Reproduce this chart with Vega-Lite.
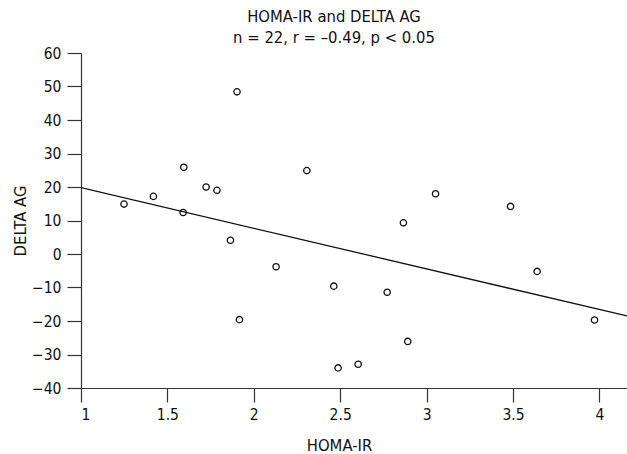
{
  "$schema": "https://vega.github.io/schema/vega-lite/v6.json",
  "width": 546,
  "height": 335,
  "autosize": {"type": "none"},
  "padding": {"left": 81, "top": 53, "right": 0, "bottom": 66},
  "background": "white",
  "title": {
    "text": ["HOMA-IR and DELTA AG", "n = 22, r = –0.49, p < 0.05"],
    "font": "DejaVu Sans Condensed, sans-serif",
    "fontSize": 16.5,
    "fontWeight": "normal",
    "color": "#111",
    "lineHeight": 21,
    "anchor": "middle",
    "frame": "group",
    "dx": -20,
    "offset": 0
  },
  "config": {
    "view": {"stroke": null},
    "axis": {
      "labelFont": "DejaVu Sans Condensed, sans-serif",
      "titleFont": "DejaVu Sans Condensed, sans-serif",
      "labelFontSize": 15.5,
      "titleFontSize": 16.5,
      "titleFontWeight": "normal",
      "labelColor": "#111",
      "titleColor": "#111",
      "domainColor": "#333",
      "tickColor": "#333",
      "domainWidth": 1.2,
      "tickWidth": 1.2,
      "tickSize": 14,
      "grid": false,
      "labelOverlap": false
    }
  },
  "encoding": {
    "x": {
      "field": "homa", "type": "quantitative",
      "scale": {"domain": [1, 4.16], "nice": false, "zero": false},
      "axis": {"title": "HOMA-IR", "values": [1, 1.5, 2, 2.5, 3, 3.5, 4], "format": "~g", "labelPadding": 5, "titlePadding": 15, "titleX": 258, "labelOverlap": false}
    },
    "y": {
      "field": "delta", "type": "quantitative",
      "scale": {"domain": [-40, 60], "nice": false, "zero": false},
      "axis": {"title": "DELTA AG", "values": [-40, -30, -20, -10, 0, 10, 20, 30, 40, 50, 60], "format": "d", "labelPadding": 6, "titlePadding": 3, "labelOverlap": false}
    }
  },
  "layer": [
    {
      "data": {
        "values": [
          {"homa": 1.903, "delta": 48.4},
          {"homa": 1.595, "delta": 25.9},
          {"homa": 1.724, "delta": 20.0},
          {"homa": 1.787, "delta": 19.0},
          {"homa": 1.419, "delta": 17.2},
          {"homa": 1.249, "delta": 14.9},
          {"homa": 1.591, "delta": 12.4},
          {"homa": 2.307, "delta": 24.9},
          {"homa": 3.052, "delta": 18.0},
          {"homa": 3.486, "delta": 14.2},
          {"homa": 2.866, "delta": 9.3},
          {"homa": 1.865, "delta": 4.1},
          {"homa": 2.129, "delta": -3.8},
          {"homa": 1.917, "delta": -19.6},
          {"homa": 3.640, "delta": -5.2},
          {"homa": 2.463, "delta": -9.6},
          {"homa": 2.772, "delta": -11.4},
          {"homa": 3.972, "delta": -19.7},
          {"homa": 2.891, "delta": -26.1},
          {"homa": 2.488, "delta": -34.0},
          {"homa": 2.604, "delta": -32.9}
        ]
      },
      "mark": {"type": "point", "shape": "circle", "filled": false, "stroke": "#111", "strokeWidth": 1.3, "size": 40, "opacity": 1}
    },
    {
      "data": {
        "values": [
          {"homa": 1.0, "delta": 19.8},
          {"homa": 4.16, "delta": -18.5}
        ]
      },
      "mark": {"type": "line", "color": "#111", "strokeWidth": 1.3, "clip": true}
    }
  ]
}
